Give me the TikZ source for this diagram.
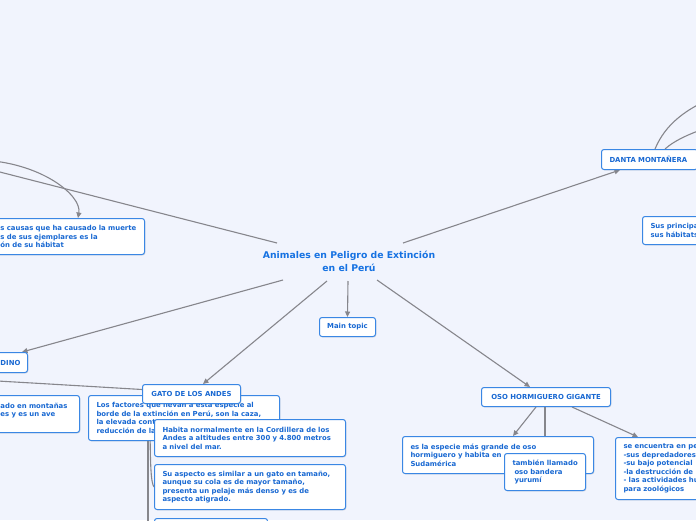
\documentclass[tikz,border=0pt]{standalone}
\usepackage{fontspec}
\setmainfont{DejaVu Sans}
\usetikzlibrary{shadows,arrows.meta}
\pgfdeclarelayer{bgfill}
\pgfdeclarelayer{lines}
\pgfsetlayers{bgfill,lines,main}
\definecolor{bg}{RGB}{241,244,253}
\definecolor{tblue}{RGB}{24,104,210}
\definecolor{ttblue}{RGB}{22,114,226}
\definecolor{bblue}{RGB}{58,135,228}
\definecolor{lgray}{RGB}{134,134,140}
\tikzset{
 box/.style={draw=bblue, line width=1pt, fill=white, rounded corners=2.5pt,
   font=\fontsize{6.9}{8.5}\selectfont\bfseries, text=tblue, align=left,
   inner xsep=8pt, inner ysep=2pt, anchor=north west,
   drop shadow={opacity=0.25, shadow xshift=0.8pt, shadow yshift=-0.9pt}},
 hbox/.style={box, align=center, inner xsep=2pt},
 titlestyle/.style={font=\fontsize{9.3}{13}\selectfont\bfseries, text=ttblue, align=center, inner sep=0pt},
 conn/.style={draw=lgray, line width=1.1pt},
 arr/.style={conn, -{Triangle[length=5.5pt,width=5pt]}},
}
\begin{document}
\begin{tikzpicture}[x=1pt,y=-1pt]
\begin{pgfonlayer}{bgfill}
\fill[bg] (0,0) rectangle (696,520);
\end{pgfonlayer}
\useasboundingbox (0,0) rectangle (696,520);
\clip (0,0) rectangle (696,520);

% central topic
\node[titlestyle] (title) at (349,261.5) {Animales en Peligro de Extinción\\en el Perú};
\coordinate (tA) at (277,243);
\coordinate (tB) at (403,243);
\coordinate (tC) at (283,280);
\coordinate (tD) at (327,281);
\coordinate (tE) at (348,281);
\coordinate (tF) at (377,280);
\coordinate (offA) at (-40,161.8);
\coordinate (offB) at (-20,160);
\coordinate (offC) at (-20,380);
\coordinate (offD) at (722,94);
\coordinate (offE) at (722,123);
\coordinate (gdown) at (148,540);

% boxes
\node[box, text width=136pt, minimum height=36pt] (causas) at (-8,218)
  {s causas que ha causado la muerte\\s de sus ejemplares es la\\ón de su hábitat};
\node[box, text width=19pt, minimum height=20pt] (condino) at (-8,352) {DINO};
\node[box, text width=80pt, minimum height=20pt] (danta) at (601,149) {DANTA MONTAÑERA};
\node[box, text width=80pt, minimum height=28pt] (sus) at (642,216) {Sus principa\\sus hábitats};
\node[hbox, minimum width=56pt, minimum height=19pt] (main) at (319,317) {Main topic};
\node[box, text width=71pt, minimum height=37pt] (ado) at (-8,395) {ado en montañas\\es y es un ave\\\mbox{}};
\node[box, text width=97pt, minimum height=20pt] (bottombox) at (154,518) {};
\node[box, text width=175pt, minimum height=45pt] (aspecto) at (154,464)
  {Su aspecto es similar a un gato en tamaño,\\aunque su cola es de mayor tamaño,\\presenta un pelaje más denso y es de\\aspecto atigrado.};
\node[box, text width=175pt, minimum height=45pt] (factores) at (88,395)
  {Los factores que llevan a esta especie al\\borde de la extinción en Perú, son la caza,\\la elevada cont\\reducción de la};
\node[hbox, minimum width=98pt, minimum height=19pt] (gato) at (142,384) {GATO DE LOS ANDES};
\node[box, text width=175pt, minimum height=37pt] (habita) at (154,419)
  {Habita normalmente en la Cordillera de los\\Andes a altitudes entre 300 y 4.800 metros\\a nivel del mar.};
\node[hbox, minimum width=129pt, minimum height=19pt] (oso) at (481,387) {OSO HORMIGUERO GIGANTE};
\node[box, text width=175pt, minimum height=37pt] (especie) at (402,436)
  {es la especie más grande de oso\\hormiguero y habita en\\Sudamérica};
\node[box, text width=73pt, inner xsep=4pt, minimum height=37pt] (llamado) at (504,453)
  {\hspace*{4pt}también llamado\\\hspace*{6pt}oso bandera\\\hspace*{6pt}yurumí};
\node[box, text width=90pt, minimum height=62pt] (encuentra) at (615,437)
  {se encuentra en pe\\-sus depredadores\\-su bajo potencial\\-la destrucción de\\- las actividades hu\\para zoológicos};

% connectors, under the boxes
\begin{pgfonlayer}{lines}
\draw[conn] (offA) -- (tA);
\draw[arr] (offB) .. controls (40,162) and (82,195) .. ([xshift=86pt]causas.north west);
\draw[arr] (tB) -- ([xshift=19pt]danta.south west);
\draw[conn] ([xshift=54pt]danta.north west) .. controls (665,125) and (685,108) .. (offD);
\draw[conn] ([xshift=64pt]danta.north west) .. controls (675,140) and (692,132) .. (offE);
\draw[arr] (tC) -- ([xshift=30pt]condino.north west);
\draw[arr] (tE) -- (main.north);
\draw[arr] (tD) -- ([xshift=61pt]gato.north west);
\draw[conn] (offC) .. controls (50,384) and (100,387) .. ([yshift=4.5pt]gato.west);
\draw[conn] ([xshift=6pt]gato.south west) -- (gdown);
\draw[conn] ([xshift=8pt]gato.south west) .. controls (150,470) and (151,482) .. ([yshift=-23pt]aspecto.north west);
\draw[arr] (tF) -- ([xshift=49pt]oso.north west);
\draw[conn] ([xshift=64pt]oso.south west) -- ([xshift=41pt]llamado.north west);
\draw[arr] ([xshift=55pt]oso.south west) -- ([xshift=111pt]especie.north west);
\draw[arr] ([xshift=91pt]oso.south west) -- ([xshift=23pt]encuentra.north west);
\end{pgfonlayer}
\end{tikzpicture}
\end{document}
